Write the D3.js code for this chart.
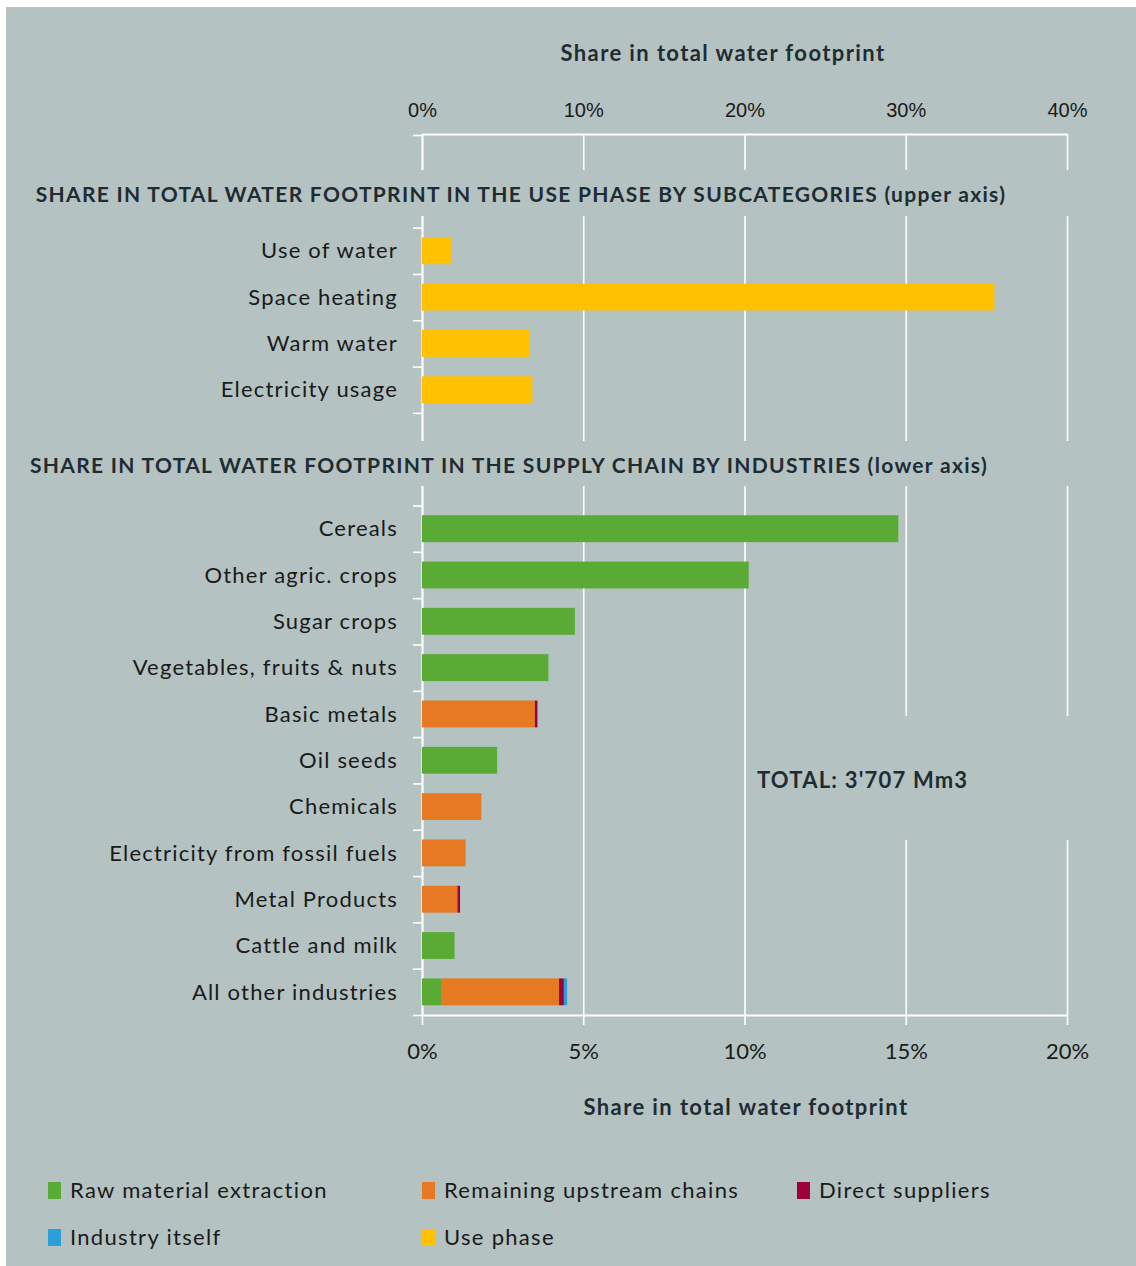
<!DOCTYPE html>
<html>
<head>
<meta charset="utf-8">
<script src="https://cdn.jsdelivr.net/npm/d3@7"></script>
<style>
  html, body { margin: 0; padding: 0; background: #ffffff; }
  svg { display: block; }
</style>
</head>
<body>
<svg id="chart" width="1136" height="1266"></svg>
<script>
// Use-phase subcategories (upper axis, % of total water footprint)
const useCategories = ["Use of water", "Space heating", "Warm water", "Electricity usage"];
const useValues = [1.85, 35.5, 6.7, 6.85];

// Supply-chain industries (lower axis, % of total water footprint)
const industries = ["Cereals", "Other agric. crops", "Sugar crops", "Vegetables, fruits & nuts",
  "Basic metals", "Oil seeds", "Chemicals", "Electricity from fossil fuels",
  "Metal Products", "Cattle and milk", "All other industries"];
const rawMaterial   = [14.77, 10.13, 4.74, 3.92, 0, 2.33, 0, 0, 0, 1.01, 0.59];
const remainingUp   = [0, 0, 0, 0, 3.50, 0, 1.84, 1.35, 1.10, 0, 3.66];
const directSupp    = [0, 0, 0, 0, 0.08, 0, 0, 0, 0.08, 0, 0.15];
const industryItself= [0, 0, 0, 0, 0, 0, 0, 0, 0, 0, 0.10];

const upperTicks = [0, 10, 20, 30, 40];
const lowerTicks = [0, 5, 10, 15, 20];

const seriesNames = ["Raw material extraction", "Remaining upstream chains", "Direct suppliers", "Industry itself", "Use phase"];
const seriesColors = ["#5aab35", "#e57a23", "#9e0038", "#2b9fd9", "#ffc000"];

const axisTitle = "Share in total water footprint";
const heading1 = "SHARE IN TOTAL WATER FOOTPRINT IN THE USE PHASE BY SUBCATEGORIES (upper axis)";
const heading2 = "SHARE IN TOTAL WATER FOOTPRINT IN THE SUPPLY CHAIN BY INDUSTRIES (lower axis)";
const totalLabel = "TOTAL: 3'707 Mm3";

const BG = "#b4c2c1";
const TXT = "#1a1a1a";
const HEAD = "#1f2c33";
const BODY_FONT = "Lato, 'Open Sans', sans-serif";

const svg = d3.select("#chart");
svg.append("rect").attr("x", 6).attr("y", 7).attr("width", 1130).attr("height", 1259).attr("fill", BG);

// Plot area: one shared row grid, two blank rows before each group
const plot = { left: 422, right: 1067, top: 135, bottom: 1015 };
const rows = [null, null, ...useCategories, null, null, ...industries];
const rowKeys = rows.map((d, i) => i);

const y = d3.scaleBand().domain(rowKeys).range([plot.top, plot.bottom]).paddingInner(0.42).paddingOuter(0.21);
const yEdges = d3.scaleLinear().domain([0, rows.length]).range([plot.top, plot.bottom]);
const xUpper = d3.scaleLinear().domain([0, 40]).range([plot.left, plot.right]);
const xLower = d3.scaleLinear().domain([0, 20]).range([plot.left, plot.right]);

// Vertical gridlines
const grid = svg.append("g").attr("transform", `translate(0,${plot.bottom})`)
  .call(d3.axisBottom(xLower).tickValues(lowerTicks).tickSize(-(plot.bottom - plot.top + 1)).tickFormat(""));
grid.select(".domain").remove();
grid.selectAll("line").attr("stroke", "#ffffff").attr("stroke-width", 1.6);

// Upper axis
const topAx = svg.append("g").attr("transform", `translate(0,${plot.top - 1})`)
  .call(d3.axisTop(xUpper).tickValues(upperTicks).tickSize(0).tickSizeOuter(0).tickPadding(16)
    .tickFormat(d => d + "%"));
topAx.select(".domain").attr("stroke", "#ffffff").attr("stroke-width", 1.8);
topAx.selectAll("text").attr("font-family", "'Liberation Sans', Arial, sans-serif")
  .attr("font-size", 20).attr("fill", TXT).attr("dy", "-0.05em");

// Lower axis
const botAx = svg.append("g").attr("transform", `translate(0,${plot.bottom})`)
  .call(d3.axisBottom(xLower).tickValues(lowerTicks).tickSize(10).tickSizeOuter(0).tickPadding(18)
    .tickFormat(d => d + "%"));
botAx.select(".domain").attr("stroke", "#ffffff").attr("stroke-width", 1.8);
botAx.selectAll("line").attr("stroke", "#ffffff").attr("stroke-width", 1.6);
botAx.selectAll("text").attr("font-family", BODY_FONT).attr("font-size", 22).attr("fill", TXT);

// Category axis: tick marks at row edges
const leftAx = svg.append("g").attr("transform", `translate(${plot.left},0)`)
  .call(d3.axisLeft(yEdges).tickValues(d3.range(0, rows.length + 1)).tickSize(9).tickSizeOuter(0).tickFormat(""));
leftAx.select(".domain").attr("stroke", "#ffffff").attr("stroke-width", 1.8);
leftAx.selectAll("line").attr("stroke", "#ffffff").attr("stroke-width", 1.6);

// Text boxes that sit over the grid
const masks = [
  { x: 6, y: 170, w: 1130, h: 46 },
  { x: 6, y: 441, w: 1130, h: 45 },
  { x: 752, y: 716, w: 330, h: 124 }
];
svg.append("g").selectAll("rect").data(masks).join("rect")
  .attr("x", d => d.x).attr("y", d => d.y).attr("width", d => d.w).attr("height", d => d.h).attr("fill", BG);

// Use-phase bars
const useRows = useCategories.map((c, i) => ({ row: 2 + i, value: useValues[i] }));
svg.append("g").selectAll("rect").data(useRows).join("rect")
  .attr("x", xUpper(0)).attr("y", d => y(d.row))
  .attr("width", d => xUpper(d.value) - xUpper(0)).attr("height", y.bandwidth())
  .attr("fill", seriesColors[4]);

// Supply-chain stacked bars
const keys = ["raw", "remaining", "direct", "itself"];
const table = industries.map((name, i) => ({
  row: 8 + i, raw: rawMaterial[i], remaining: remainingUp[i], direct: directSupp[i], itself: industryItself[i]
}));
const stacked = d3.stack().keys(keys)(table);
svg.append("g").selectAll("g").data(stacked).join("g")
  .attr("fill", (d, i) => seriesColors[i])
  .selectAll("rect").data(d => d.filter(s => s[1] - s[0] > 0)).join("rect")
  .attr("x", d => xLower(d[0])).attr("y", d => y(d.data.row))
  .attr("width", d => xLower(d[1]) - xLower(d[0])).attr("height", y.bandwidth());

// Category labels
svg.append("g").selectAll("text").data(rows.map((r, i) => ({ r, i })).filter(d => d.r)).join("text")
  .attr("x", 398).attr("y", d => y(d.i) + y.bandwidth() / 2).attr("dy", "0.35em")
  .attr("text-anchor", "end").attr("font-family", BODY_FONT).attr("font-size", 22)
  .attr("letter-spacing", 1.2).attr("fill", TXT)
  .text(d => d.r);

// Titles and headings
const bold = (x, yy, t, size, spacing, anchor) => svg.append("text").attr("x", x).attr("y", yy)
  .attr("text-anchor", anchor).attr("font-family", BODY_FONT).attr("font-weight", 700)
  .attr("font-size", size).attr("letter-spacing", spacing).attr("fill", HEAD).attr("dy", "0.35em").text(t);
bold(723, 53, axisTitle, 22, 1.4, "middle");
bold(746, 1107, axisTitle, 22, 1.4, "middle");
bold(521, 195, heading1, 21, 1.3, "middle");
bold(509, 466, heading2, 21, 1.3, "middle");
bold(757, 780, totalLabel, 22, 1.2, "start");

// Legend
const legendItems = [
  { x: 48, y: 1190, i: 0 }, { x: 422, y: 1190, i: 1 }, { x: 797, y: 1190, i: 2 },
  { x: 48, y: 1237, i: 3 }, { x: 422, y: 1237, i: 4 }
];
const lg = svg.append("g").selectAll("g").data(legendItems).join("g")
  .attr("transform", d => `translate(${d.x},${d.y})`);
lg.append("rect").attr("x", 0).attr("y", -8).attr("width", 13).attr("height", 17)
  .attr("fill", d => seriesColors[d.i]);
lg.append("text").attr("x", 22).attr("y", 0).attr("dy", "0.35em")
  .attr("font-family", BODY_FONT).attr("font-size", 22).attr("letter-spacing", 1.3).attr("fill", TXT)
  .text(d => seriesNames[d.i]);
</script>
</body>
</html>
